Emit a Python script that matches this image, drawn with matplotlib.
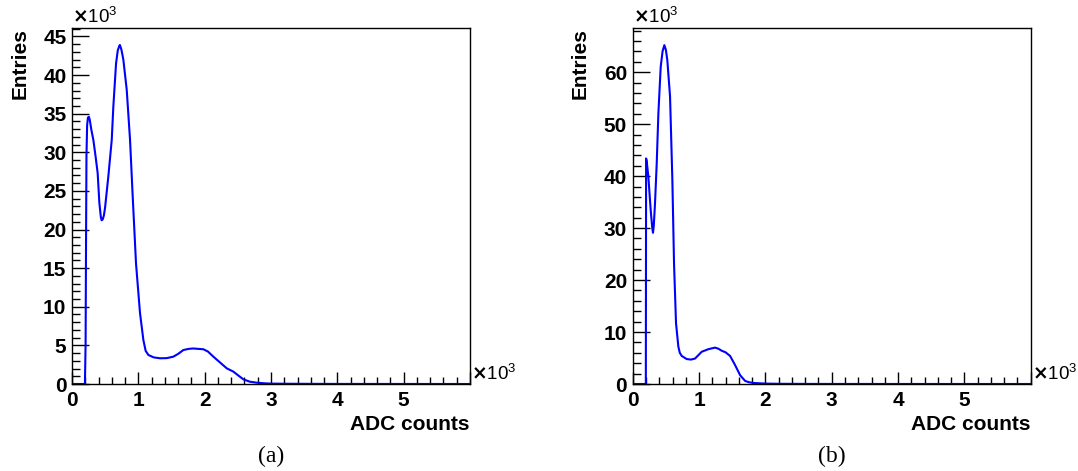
import matplotlib.pyplot as plt
from matplotlib.ticker import MultipleLocator, FuncFormatter

plt.rcParams["font.family"] = ["Liberation Sans", "DejaVu Sans"]
plt.rcParams["font.weight"] = "bold"

# panel (a), ADC counts vs entries (x10^3)
adc_a = [0, 195, 205, 211, 218, 228, 240, 255, 268, 290, 322, 355, 387, 412, 435, 447, 462, 480, 498,
         548, 599, 623, 664, 690, 714, 722, 745, 774, 825, 875, 915, 965, 1025, 1076,
         1110, 1151, 1230, 1327, 1428, 1528, 1600, 1679, 1760, 1830, 1900, 1980, 2050, 2131,
         2230, 2333, 2433, 2500, 2584, 2680, 2785, 2900, 3000, 3300, 3600, 4000, 5000, 6000]
ent_a = [0, 0, 5.3, 17.4, 29.5, 33.5, 34.5, 34.6, 34.2, 33.0, 31.6, 29.5, 27.3, 23.5, 21.6, 21.2, 21.3, 21.8, 22.8,
         26.9, 31.6, 35.9, 41.5, 43.2, 43.8, 43.9, 43.3, 42.0, 38.1, 31.6, 24.3, 15.6, 9.2, 5.7,
         4.3, 3.76, 3.45, 3.33, 3.35, 3.54, 3.9, 4.4, 4.55, 4.6, 4.55, 4.5, 4.2, 3.54,
         2.8, 2.03, 1.6, 1.15, 0.6, 0.3, 0.17, 0.09, 0.05, 0.03, 0.02, 0.01, 0.005, 0.0]

# panel (b)
adc_b = [0, 198, 202, 210, 236, 271, 295, 306, 318, 336, 362, 387, 422, 450, 477, 500, 522, 563,
         598, 623, 653, 688, 710, 739, 814, 880, 940, 1040, 1141, 1241, 1290, 1342, 1400, 1468,
         1543, 1619, 1694, 1750, 1820, 2000, 2200, 2600, 3000, 4000, 6000]
ent_b = [0, 0, 43.4, 43.0, 39.9, 33.5, 30.0, 29.1, 30.5, 34.7, 42.4, 52.0, 61.0, 64.0, 65.2, 64.3, 62.3, 55.3,
         39.2, 23.2, 11.7, 7.2, 6.0, 5.4, 4.8, 4.7, 4.9, 6.2, 6.7, 7.0, 6.8, 6.4, 6.1, 5.4,
         3.65, 1.7, 0.6, 0.35, 0.2, 0.08, 0.04, 0.02, 0.01, 0.005, 0.0]

ylims = [46.1, 68.5]
ymajor = [5, 10]
yminor = [1, 2]
labels = ["(a)", "(b)"]

fs = 15

fig = plt.figure(figsize=(10.78, 4.71), dpi=100)
lefts = [72 / 1078, 632.7 / 1078]
w = 398 / 1078
b0 = 87 / 471
h = 356 / 471

for i, (xs, ys) in enumerate([(adc_a, ent_a), (adc_b, ent_b)]):
    ax = fig.add_axes([lefts[i], b0, w, h])
    ax.plot([x / 1000 for x in xs], ys, color="#0000ff", lw=1.5)
    ax.set_xlim(0, 6)
    ax.set_ylim(0, ylims[i])
    ax.xaxis.set_major_locator(MultipleLocator(1))
    ax.xaxis.set_minor_locator(MultipleLocator(0.2))
    ax.yaxis.set_major_locator(MultipleLocator(ymajor[i]))
    ax.yaxis.set_minor_locator(MultipleLocator(yminor[i]))
    ax.xaxis.set_major_formatter(FuncFormatter(lambda v, p: "%d" % v if v < 5.5 else ""))
    ax.tick_params(axis="x", which="major", direction="in", length=9, width=1, pad=5, labelsize=fs)
    ax.tick_params(axis="x", which="minor", direction="in", length=5, width=1)
    ax.tick_params(axis="y", which="major", direction="in", length=12, width=1, pad=4, labelsize=fs)
    ax.tick_params(axis="y", which="minor", direction="in", length=6, width=1)
    ax.set_ylabel("Entries", fontsize=fs, fontweight="bold", loc="top", labelpad=10)
    ax.set_xlabel("ADC counts", fontsize=fs, fontweight="bold", loc="right", labelpad=4)
    ax.text(0, 1.004, r"$\times$10$^{\mathregular{3}}$", transform=ax.transAxes, ha="left",
            va="bottom", fontsize=13.5, fontweight="normal")
    ax.text(1.003, 0.0, r"$\times$10$^{\mathregular{3}}$", transform=ax.transAxes, ha="left",
            va="bottom", fontsize=13.5, fontweight="normal")
    ax.text(0.5, -0.175, labels[i], transform=ax.transAxes, ha="center", va="top",
            fontsize=17, fontweight="normal", family=["Liberation Serif", "DejaVu Serif"])
    for s in ax.spines.values():
        s.set_linewidth(1)

fig.savefig("out.png", dpi=100)
